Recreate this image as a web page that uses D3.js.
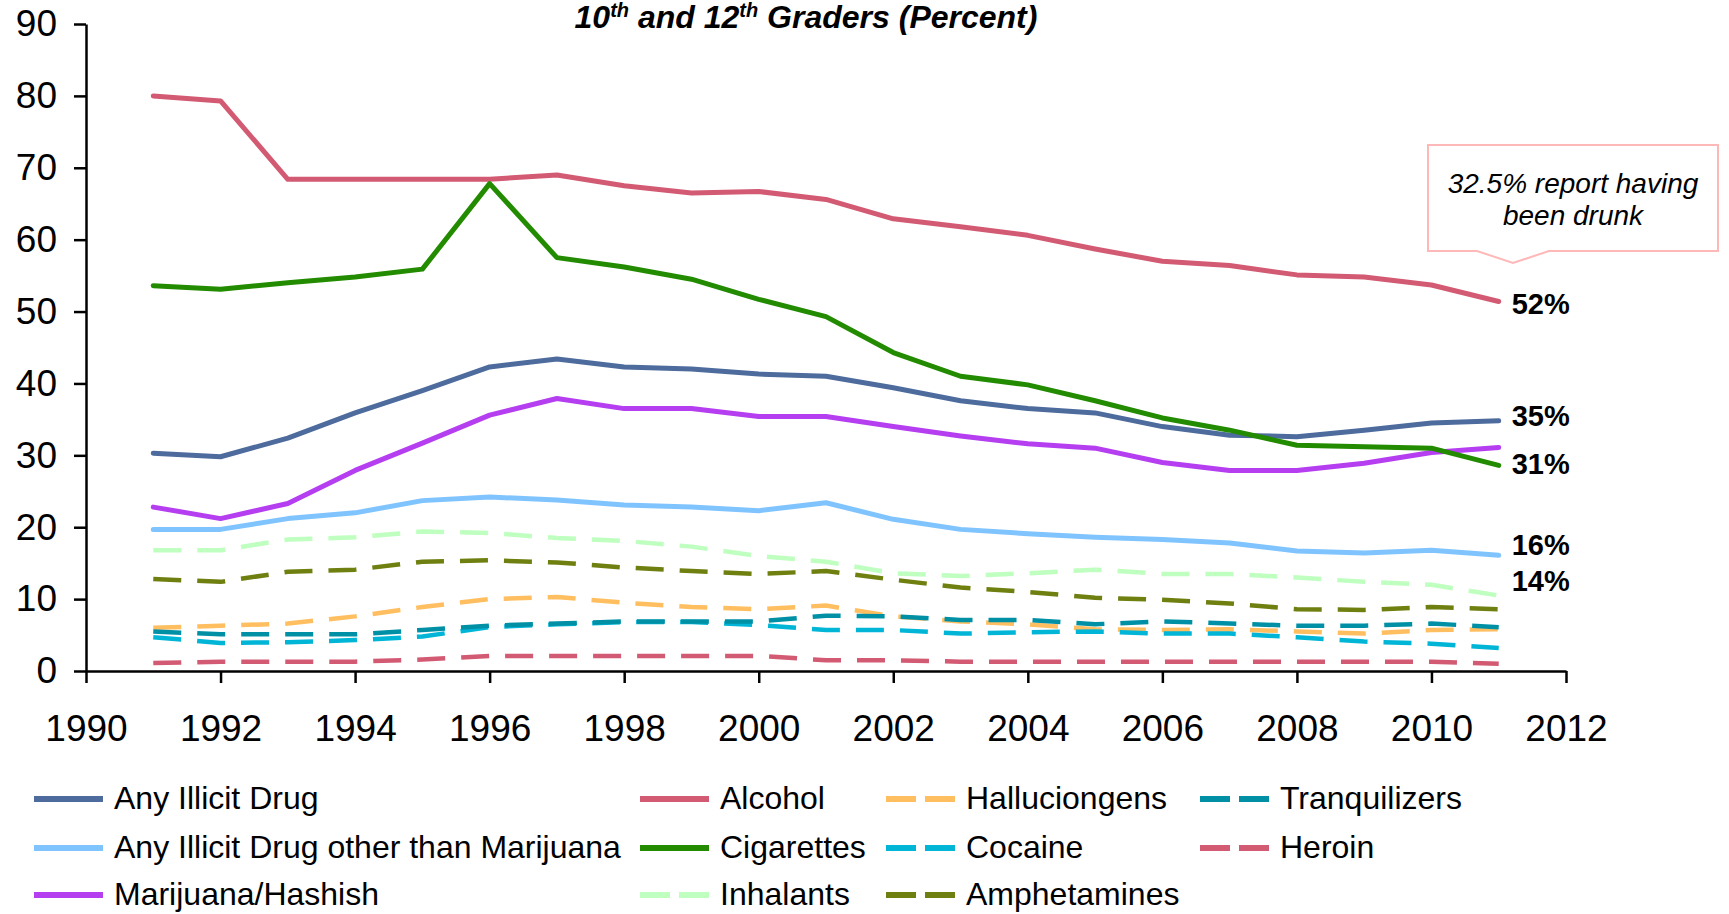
<!DOCTYPE html>
<html>
<head>
<meta charset="utf-8">
<script src="https://cdn.jsdelivr.net/npm/d3@7"></script>
<style>
  body { margin: 0; background: #fff; }
  svg { display: block; font-family: "Liberation Sans", Arial, sans-serif; }
  .axis path, .axis line { stroke: #000; stroke-width: 2.5; }
  .axis text { font-size: 37px; fill: #000; }
</style>
</head>
<body>
<div id="chart"></div>
<script>
const years = d3.range(1991, 2012);

const anyIllicit   = [30.3, 29.8, 32.4, 35.9, 39.0, 42.3, 43.4, 42.3, 42.0, 41.3, 41.0, 39.4, 37.6, 36.5, 35.9, 34.0, 32.8, 32.6, 33.5, 34.5, 34.8];
const otherThanMj  = [19.7, 19.7, 21.2, 22.0, 23.7, 24.2, 23.8, 23.1, 22.8, 22.3, 23.4, 21.1, 19.7, 19.1, 18.6, 18.3, 17.8, 16.7, 16.4, 16.8, 16.1];
const marijuana    = [22.8, 21.2, 23.3, 27.9, 31.7, 35.6, 37.9, 36.5, 36.5, 35.4, 35.4, 34.0, 32.7, 31.6, 31.0, 29.0, 27.9, 27.9, 28.9, 30.4, 31.1];
const alcohol      = [80.0, 79.3, 68.4, 68.4, 68.4, 68.4, 69.0, 67.5, 66.5, 66.7, 65.6, 62.9, 61.8, 60.6, 58.7, 57.0, 56.4, 55.1, 54.8, 53.7, 51.4];
const cigarettes   = [53.6, 53.1, 54.0, 54.8, 55.9, 67.8, 57.5, 56.2, 54.5, 51.7, 49.3, 44.3, 41.0, 39.8, 37.6, 35.2, 33.5, 31.4, 31.2, 31.0, 28.6];
const inhalants    = [16.8, 16.8, 18.3, 18.6, 19.4, 19.2, 18.5, 18.1, 17.3, 16.0, 15.2, 13.6, 13.2, 13.6, 14.1, 13.5, 13.5, 13.0, 12.4, 12.0, 10.5];
const hallucinogens= [6.0, 6.3, 6.6, 7.6, 8.9, 10.0, 10.3, 9.5, 8.9, 8.6, 9.1, 7.6, 6.9, 6.5, 5.8, 5.7, 5.8, 5.5, 5.2, 5.7, 5.8];
const cocaine      = [4.7, 3.9, 4.0, 4.3, 4.8, 6.1, 6.5, 6.8, 6.8, 6.4, 5.7, 5.7, 5.2, 5.4, 5.5, 5.2, 5.2, 4.7, 4.1, 3.8, 3.2];
const amphetamines = [12.8, 12.4, 13.8, 14.1, 15.2, 15.4, 15.1, 14.4, 13.9, 13.5, 13.9, 12.7, 11.6, 11.0, 10.2, 9.9, 9.4, 8.6, 8.5, 8.9, 8.6];
const tranquilizers= [5.5, 5.1, 5.1, 5.1, 5.7, 6.3, 6.6, 6.9, 6.9, 6.9, 7.7, 7.6, 7.1, 7.1, 6.5, 6.9, 6.6, 6.3, 6.3, 6.6, 6.1];
const heroin       = [1.1, 1.3, 1.3, 1.3, 1.6, 2.1, 2.1, 2.1, 2.1, 2.1, 1.5, 1.5, 1.3, 1.3, 1.3, 1.3, 1.3, 1.3, 1.3, 1.3, 1.0];

const yTicks = d3.range(0, 91, 10);
const xTicks = d3.range(1990, 2013, 2);

const endLabels = [["52%", 51.2], ["35%", 35.6], ["31%", 28.9], ["16%", 17.7], ["14%", 12.7]];

// legend is column-major, 3 rows
const series = [
  { name: "Any Illicit Drug", values: anyIllicit, color: "#4d6b9c", dashed: false },
  { name: "Any Illicit Drug other than Marijuana", values: otherThanMj, color: "#80c4ff", dashed: false },
  { name: "Marijuana/Hashish", values: marijuana, color: "#b43ef0", dashed: false },
  { name: "Alcohol", values: alcohol, color: "#d35a73", dashed: false },
  { name: "Cigarettes", values: cigarettes, color: "#228b00", dashed: false },
  { name: "Inhalants", values: inhalants, color: "#bfffbf", dashed: true },
  { name: "Halluciongens", values: hallucinogens, color: "#ffbf60", dashed: true },
  { name: "Cocaine", values: cocaine, color: "#00b5d6", dashed: true },
  { name: "Amphetamines", values: amphetamines, color: "#6f7f10", dashed: true },
  { name: "Tranquilizers", values: tranquilizers, color: "#0090a6", dashed: true },
  { name: "Heroin", values: heroin, color: "#d35a73", dashed: true },
];

const width = 1729, height = 914;

const svg = d3.select("#chart").append("svg")
  .attr("width", width)
  .attr("height", height);

const x = d3.scaleLinear().domain([1990, 2012]).range([86, 1566]);
const y = d3.scaleLinear().domain([0, 90]).range([671, 24]);

// axes
svg.append("g")
  .attr("class", "axis")
  .attr("transform", `translate(${x(1990)},0)`)
  .call(d3.axisLeft(y).tickValues(yTicks).tickSize(12).tickSizeOuter(0).tickPadding(17));

svg.append("g")
  .attr("class", "axis")
  .attr("transform", `translate(0,${y(0)})`)
  .call(d3.axisBottom(x).tickValues(xTicks).tickFormat(d3.format("d")).tickSize(12).tickSizeOuter(0).tickPadding(32));

// lines: dashed first, solid on top
const line = d3.line()
  .x((d, i) => x(years[i]))
  .y((d) => y(d));

const ordered = series.filter((s) => s.dashed).concat(series.filter((s) => !s.dashed));

svg.append("g")
  .selectAll("path")
  .data(ordered)
  .enter().append("path")
  .attr("d", (d) => line(d.values))
  .attr("fill", "none")
  .attr("stroke", (d) => d.color)
  .attr("stroke-width", (d) => (d.dashed ? 4.5 : 5))
  .attr("stroke-linejoin", "round")
  .attr("stroke-linecap", (d) => (d.dashed ? "butt" : "round"))
  .attr("stroke-dasharray", (d) => (d.dashed ? "28,16" : null));

// title
const title = svg.append("text")
  .attr("x", 806)
  .attr("y", 28)
  .attr("text-anchor", "middle")
  .style("font-size", "32px")
  .style("font-weight", "bold")
  .style("font-style", "italic");
title.append("tspan").text("10");
title.append("tspan").attr("dy", -11).style("font-size", "20px").text("th");
title.append("tspan").attr("dy", 11).text(" and 12");
title.append("tspan").attr("dy", -11).style("font-size", "20px").text("th");
title.append("tspan").attr("dy", 11).text(" Graders (Percent)");

// end labels
svg.append("g")
  .selectAll("text")
  .data(endLabels)
  .enter().append("text")
  .attr("x", x(2011) + 13)
  .attr("y", (d) => y(d[1]) + 11)
  .style("font-size", "29px")
  .style("font-weight", "bold")
  .text((d) => d[0]);

// callout
svg.append("path")
  .attr("d", "M1428,145 H1718 V251 H1549 L1513,263 L1477,251 H1428 Z")
  .attr("fill", "#fff")
  .attr("stroke", "#ffb8b8")
  .attr("stroke-width", 2);

svg.append("text")
  .attr("x", 1573)
  .attr("y", 193)
  .attr("text-anchor", "middle")
  .style("font-size", "28px")
  .style("font-style", "italic")
  .text("32.5% report having");

svg.append("text")
  .attr("x", 1573)
  .attr("y", 225)
  .attr("text-anchor", "middle")
  .style("font-size", "28px")
  .style("font-style", "italic")
  .text("been drunk");

// legend
const colX = [34, 640, 886, 1200];
const rowY = [799, 848, 895];

const legend = svg.append("g")
  .selectAll("g")
  .data(series)
  .enter().append("g")
  .attr("transform", (d, i) => `translate(${colX[Math.floor(i / 3)]},${rowY[i % 3]})`);

legend.append("line")
  .attr("x1", 0)
  .attr("x2", 69)
  .attr("stroke", (d) => d.color)
  .attr("stroke-width", 6)
  .attr("stroke-dasharray", (d) => (d.dashed ? "30,9" : null));

legend.append("text")
  .attr("x", 80)
  .attr("y", 10)
  .style("font-size", "32px")
  .text((d) => d.name);
</script>
</body>
</html>
